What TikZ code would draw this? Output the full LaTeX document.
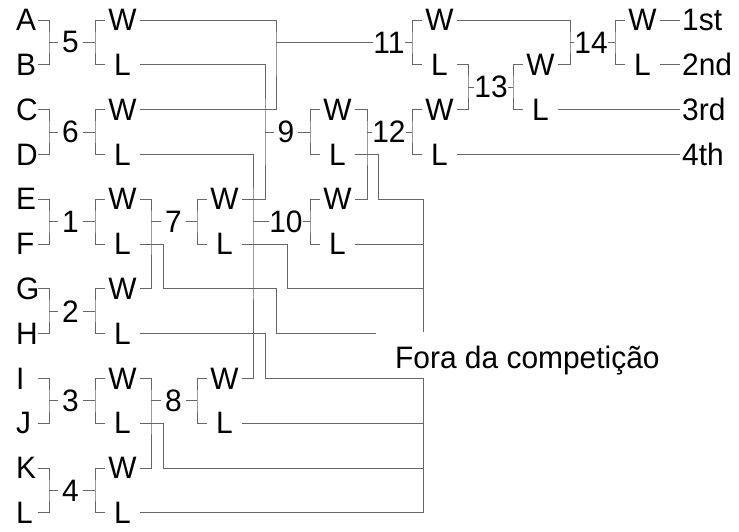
\documentclass[tikz,border=0pt]{standalone}
\usepackage{fontspec}
\setmainfont{Liberation Sans}[FakeStretch=0.965]
\begin{document}
\begin{tikzpicture}[x=1pt,y=-44.8pt,
	every node/.style={font=\fontsize{31}{36}\selectfont,inner sep=0pt},
	team/.style={anchor=west,text width=22pt,align=left},
	game/.style={minimum width=24pt},
	res/.style={minimum width=35pt},
	place/.style={anchor=west,inner sep=2pt},
	ln/.style={draw=black!60,line width=1pt}]
	\useasboundingbox (0,-0.4464) rectangle (739,11.4063);
	% first round
	\foreach \t/\g/\p/\q in {0/5/A/B,2/6/C/D,4/1/E/F,6/2/G/H,8/3/I/J,10/4/K/L}{
		\node[team] (t\p) at (16,\t) {\p};
		\node[team] (t\q) at (16,\t+1) {\q};
		\coordinate (b\g) at (49,\t+0.5);
		\node[game] (g\g) at (70.5,\t+0.5) {\g};
		\coordinate (c\g) at (95,\t+0.5);
		\node[res] (w\g) at (122.5,\t) {W};
		\node[res] (l\g) at (122.5,\t+1) {L};
		\draw[ln] (t\p) -| (b\g) |- (t\q);
		\draw[ln] (b\g) -- (g\g) -- (c\g);
		\draw[ln] (w\g) -| (c\g) |- (l\g);
	}
	% second round
	\foreach \g/\a/\b/\t in {7/1/2/4,8/3/4/8}{
		\coordinate (b\g) at (151,\t+0.5);
		\node[game] (g\g) at (173.5,\t+0.5) {\g};
		\coordinate (c\g) at (197,\t+0.5);
		\node[res] (w\g) at (224.5,\t) {W};
		\node[res] (l\g) at (224.5,\t+1) {L};
		\draw[ln] (w\a) -| (b\g) |- (w\b);
		\draw[ln] (b\g) -- (g\g) -- (c\g);
		\draw[ln] (w\g) -| (c\g) |- (l\g);
	}
	% later games
	\foreach \g/\a/\b/\bx/\gx/\cx/\t in {9/l5/w7/265/286/310/2,
		10/l6/w8/253/286/310/4,11/w5/w6/276/389/412/0,
		12/w9/w10/367/389/412/2,13/l11/w12/468/491/513/1,
		14/w11/w13/570/591/615/0}{
		\coordinate (b\g) at (\bx,\t+0.5);
		\node[game] (g\g) at (\gx,\t+0.5) {\g};
		\coordinate (c\g) at (\cx,\t+0.5);
		\node[res] (w\g) at (\cx+27.5,\t) {W};
		\node[res] (l\g) at (\cx+27.5,\t+1) {L};
		\draw[ln] (\a) -| (b\g) |- (\b);
		\draw[ln] (b\g) -- (g\g) -- (c\g);
		\draw[ln] (w\g) -| (c\g) |- (l\g);
	}
	% final places
	\foreach \n/\s/\r/\txt in {1/w14/0/1st,2/l14/1/2nd,3/l13/2/3rd,4/l12/3/4th}{
		\node[place] (p\n) at (680,\r) {\txt};
		\draw[ln] (\s) -- (p\n);
	}
	% out of the competition
	\node[anchor=base west] (fora) at (395,7.79) {Fora da competição};
	\coordinate (bus) at (423,4);
	\coordinate (gap) at (423,6.964);
	\coordinate (bus2) at (423,8);
	\coordinate (busend) at (423,11);
	\coordinate (o9) at (378,4);
	\coordinate (o7) at (287,6);
	\coordinate (o1) at (163,6);
	\coordinate (o1b) at (276,7);
	\coordinate (o1end) at (376,7);
	\coordinate (o2) at (265,8);
	\coordinate (o3) at (163,10);
	\draw[ln] (l9) -| (o9) -- (bus) -- (gap);
	\draw[ln] (l10) -- (l10 -| bus);
	\draw[ln] (l7) -| (o7) -- (o7 -| bus);
	\draw[ln] (l1) -| (o1) -| (o1b) -- (o1end);
	\draw[ln] (l2) -| (o2) -- (bus2) -- (busend);
	\draw[ln] (l8) -- (l8 -| bus);
	\draw[ln] (l3) -| (o3) -- (o3 -| bus);
	\draw[ln] (l4) -- (busend);
\end{tikzpicture}
\end{document}
